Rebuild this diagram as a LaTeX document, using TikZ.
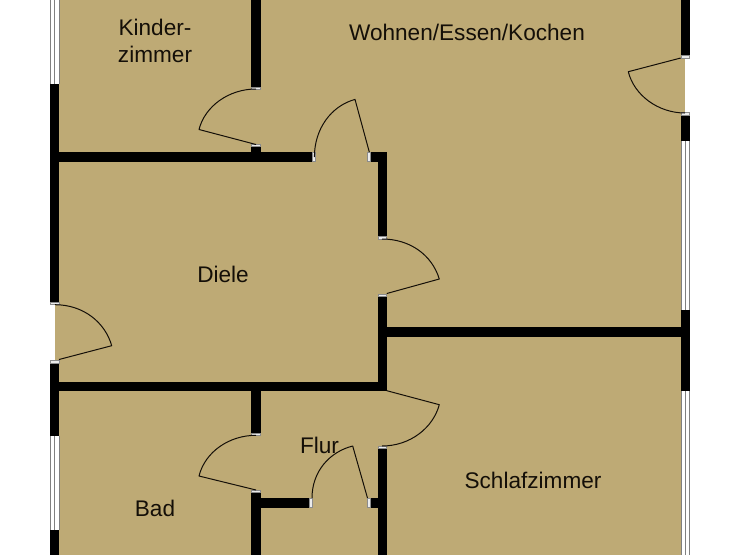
\documentclass[tikz,border=0pt]{standalone}
\usepackage{fontspec}
\setmainfont{Liberation Sans}
\definecolor{floorc}{HTML}{BEAA75}
\definecolor{inkc}{HTML}{140F08}
\tikzset{
  wall/.style={fill=black,draw=none},
  capw/.style={fill=white!92!black,draw=black!45,line width=0.5pt},
  winw/.style={fill=white,draw=none},
  winl/.style={draw=black!50,line width=0.9pt},
  doorl/.style={draw=inkc,line width=1pt,line join=round},
  lbl/.style={text=inkc,font=\fontsize{22.6}{27}\selectfont,inner sep=0pt,align=center}
}
\newcommand{\winv}[3]{%
  \fill[winw] (#1,#2) rectangle (#1+9.5,#3);
  \draw[winl] (#1+.4,#2) -- (#1+.4,#3) (#1+4.7,#2) -- (#1+4.7,#3) (#1+9.1,#2) -- (#1+9.1,#3);}
\begin{document}
\begin{tikzpicture}[x=1pt,y=-1pt]
\useasboundingbox (0,0) rectangle (740,555);
\fill[white] (0,0) rectangle (740,555);
\fill[floorc] (55,0) rectangle (685.3,555);
% windows
\winv{50}{0}{84}
\winv{50}{436}{530}
\winv{680.7}{141}{310}
\winv{680.7}{391}{555}
% outer walls
\fill[wall] (50,84) rectangle (59.3,304.7);
\fill[wall] (50,360.5) rectangle (59.3,436);
\fill[wall] (50,530) rectangle (59.3,555);
\fill[wall] (680.7,0) rectangle (690,58);
\fill[wall] (680.7,112.5) rectangle (690,141);
\fill[wall] (680.7,310) rectangle (690,391);
% inner walls
\fill[wall] (251.3,0) rectangle (260.5,89.5);
\fill[wall] (251.3,144) rectangle (260.5,153);
\fill[wall] (59,152) rectangle (315,161.5);
\fill[wall] (370,152) rectangle (386.8,161.5);
\fill[wall] (377.7,152) rectangle (386.8,239);
\fill[wall] (377.7,294) rectangle (386.8,391);
\fill[wall] (386,326.7) rectangle (681,336.7);
\fill[wall] (59,382) rectangle (386.8,391.3);
\fill[wall] (251.3,391) rectangle (260.5,435.5);
\fill[wall] (251.3,490) rectangle (260.5,555);
\fill[wall] (260,498) rectangle (312,507.7);
\fill[wall] (367.5,498) rectangle (378,507.7);
\fill[wall] (377.7,446) rectangle (386.8,555);
% wall end caps
\draw[capw] (251.6,87) rectangle (260.2,89.5);
\draw[capw] (251.6,144) rectangle (260.2,146.5);
\draw[capw] (312.5,152.3) rectangle (315,161.2);
\draw[capw] (367.5,152.3) rectangle (370,161.2) ;
\draw[capw] (378,236.5) rectangle (386.5,239);
\draw[capw] (378,294) rectangle (386.5,296.5);
\draw[capw] (681,55.5) rectangle (689.7,58);
\draw[capw] (681,112.5) rectangle (689.7,115);
\draw[capw] (50.3,302.2) rectangle (59,304.7);
\draw[capw] (50.3,360.5) rectangle (59,363);
\draw[capw] (251.6,433) rectangle (260.2,435.5);
\draw[capw] (251.6,490) rectangle (260.2,492.5);
\draw[capw] (309.5,498.3) rectangle (312,507.4);
\draw[capw] (367.5,498.3) rectangle (370,507.4);
\draw[capw] (378,446) rectangle (386.5,448.5);
% doors
\draw[doorl] (256,144.5) -- (199,129.5) .. controls (205,106) and (229,89) .. (256,89);
\draw[doorl] (314.4,157) .. controls (314.4,129) and (331,106) .. (355,99.4) -- (369.3,152);
\draw[doorl] (382,239) .. controls (410,239) and (432,255) .. (439.3,279) -- (386.8,293.5);
\draw[doorl] (680.7,58) -- (628.3,71.7) .. controls (634,95) and (658,113) .. (685,113);
\draw[doorl] (55,304.7) .. controls (83,304.7) and (105,322) .. (111.7,345.7) -- (59,359.5);
\draw[doorl] (386.8,390.7) -- (439.3,404.7) .. controls (433,428) and (410,446) .. (382,446);
\draw[doorl] (256,490) -- (199,476) .. controls (205,452) and (229,435.3) .. (256,435.3);
\draw[doorl] (312,498) .. controls (312,472) and (329,452) .. (352.7,446) -- (367.5,498);
% labels
\node[lbl] (kinder) at (155,40.5) {Kinder-\\zimmer};
\node[lbl] (wohnen) at (467,32) {Wohnen/Essen/Kochen};
\node[lbl] (diele) at (223,274) {Diele};
\node[lbl] (flur) at (319.5,445) {Flur};
\node[lbl] (bad) at (155,508.5) {Bad};
\node[lbl] (schlaf) at (533,480) {Schlafzimmer};
\end{tikzpicture}
\end{document}
